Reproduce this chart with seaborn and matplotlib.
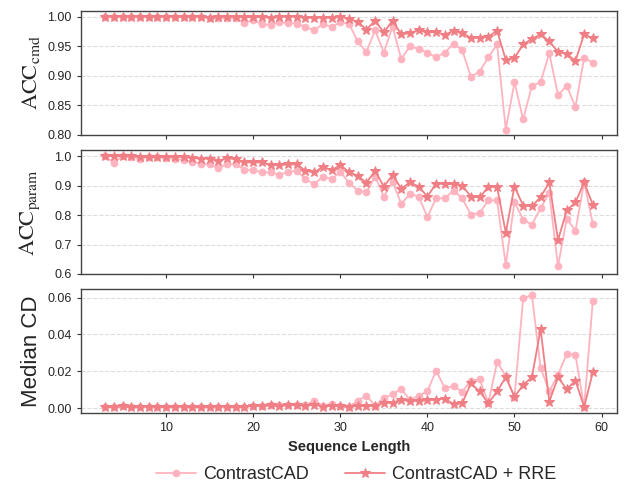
import numpy as np
import pandas as pd
import seaborn as sns
import matplotlib.pyplot as plt

# sequence lengths 3..59
seq_len = list(range(3, 60))

# ACC_cmd
cmd_base = [1.0, 1.0, 1.0, 1.0, 0.999, 0.999, 0.999, 0.999, 0.999, 0.999,
            0.999, 0.999, 0.997, 0.997, 0.997, 0.997, 0.989, 0.994, 0.987, 0.986,
            0.990, 0.989, 0.988, 0.982, 0.977, 0.987, 0.983, 0.990, 0.988, 0.958,
            0.940, 0.977, 0.939, 0.983, 0.928, 0.950, 0.945, 0.939, 0.931, 0.939,
            0.954, 0.943, 0.898, 0.907, 0.931, 0.953, 0.809, 0.889, 0.826, 0.883,
            0.889, 0.938, 0.867, 0.883, 0.847, 0.930, 0.922]
cmd_rre = [1.0, 1.0, 1.0, 1.0, 1.0, 1.0, 1.0, 1.0, 1.0, 1.0,
           1.0, 1.0, 0.998, 1.0, 1.0, 1.0, 0.999, 0.999, 0.999, 0.998,
           1.0, 1.0, 1.0, 0.998, 0.998, 0.998, 0.998, 1.0, 0.996, 0.991,
           0.978, 0.993, 0.973, 0.993, 0.970, 0.972, 0.977, 0.973, 0.974, 0.969,
           0.976, 0.972, 0.964, 0.964, 0.966, 0.976, 0.927, 0.930, 0.953, 0.962,
           0.970, 0.958, 0.940, 0.937, 0.925, 0.970, 0.963]

# ACC_param
param_base = [1.0, 0.978, 1.0, 0.998, 0.992, 0.996, 0.996, 0.994, 0.992, 0.987,
              0.981, 0.975, 0.972, 0.959, 0.973, 0.973, 0.953, 0.953, 0.945, 0.945,
              0.937, 0.947, 0.950, 0.922, 0.905, 0.931, 0.922, 0.947, 0.910, 0.883,
              0.877, 0.931, 0.863, 0.914, 0.838, 0.872, 0.863, 0.793, 0.857, 0.857,
              0.883, 0.857, 0.801, 0.807, 0.850, 0.850, 0.631, 0.844, 0.785, 0.767,
              0.824, 0.875, 0.626, 0.788, 0.747, 0.911, 0.770]
param_rre = [1.0, 1.0, 1.0, 1.0, 0.998, 0.998, 0.998, 0.998, 0.998, 0.998,
             0.994, 0.992, 0.992, 0.984, 0.994, 0.989, 0.979, 0.979, 0.979, 0.970,
             0.970, 0.972, 0.972, 0.951, 0.945, 0.964, 0.952, 0.970, 0.946, 0.933,
             0.910, 0.950, 0.897, 0.936, 0.890, 0.911, 0.897, 0.863, 0.907, 0.906,
             0.905, 0.900, 0.863, 0.860, 0.896, 0.896, 0.740, 0.897, 0.832, 0.830,
             0.861, 0.911, 0.715, 0.816, 0.843, 0.911, 0.835]

# Median CD
cd_base = [0.0007, 0.0004, 0.0011, 0.0004, 0.0007, 0.0009, 0.0009, 0.0005, 0.0009, 0.0009,
           0.0007, 0.0005, 0.0009, 0.0009, 0.0009, 0.0005, 0.0009, 0.0013, 0.0013, 0.0016,
           0.0015, 0.0016, 0.0020, 0.0016, 0.0041, 0.0014, 0.0023, 0.0010, 0.0008, 0.0041,
           0.0068, 0.0014, 0.0056, 0.0076, 0.0105, 0.0045, 0.0068, 0.0092, 0.0204, 0.0110,
           0.0119, 0.0089, 0.0150, 0.0157, 0.0027, 0.0250, 0.0177, 0.0062, 0.0596, 0.0614,
           0.0219, 0.0091, 0.0182, 0.0295, 0.0290, 0.0007, 0.0583]
cd_rre = [0.0007, 0.0004, 0.0011, 0.0004, 0.0007, 0.0009, 0.0009, 0.0005, 0.0009, 0.0009,
          0.0007, 0.0005, 0.0009, 0.0009, 0.0009, 0.0005, 0.0009, 0.0013, 0.0013, 0.0015,
          0.0013, 0.0016, 0.0020, 0.0014, 0.0020, 0.0009, 0.0014, 0.0011, 0.0007, 0.0014,
          0.0011, 0.0014, 0.0029, 0.0029, 0.0047, 0.0038, 0.0041, 0.0043, 0.0047, 0.0052,
          0.0022, 0.0027, 0.0135, 0.0091, 0.0027, 0.0091, 0.0168, 0.0062, 0.0126, 0.0168,
          0.0429, 0.0036, 0.0168, 0.0102, 0.0150, 0.0007, 0.0195]

labels = ['ContrastCAD', 'ContrastCAD + RRE']
colors = ['#ffb3bf', '#ef7f84']

sns.set_style('ticks')
plt.rcParams['font.family'] = ['Liberation Sans', 'DejaVu Sans']
plt.rcParams['mathtext.fontset'] = 'stix'

fig, axes = plt.subplots(3, 1, figsize=(6.26, 4.86), dpi=100, sharex=True)
fig.subplots_adjust(left=0.129, right=0.986, top=0.977, bottom=0.150, hspace=0.125)

panels = [
    (cmd_base, cmd_rre, r'$\mathrm{ACC}_{\mathrm{cmd}}$', (0.8, 1.009), [0.80, 0.85, 0.90, 0.95, 1.00], '{:.2f}'),
    (param_base, param_rre, r'$\mathrm{ACC}_{\mathrm{param}}$', (0.6, 1.02), [0.6, 0.7, 0.8, 0.9, 1.0], '{:.1f}'),
    (cd_base, cd_rre, 'Median CD', None, [0.00, 0.02, 0.04, 0.06], '{:.2f}'),
]

for ax, (base, rre, ylab, ylim, yticks, fmt) in zip(axes, panels):
    sns.lineplot(x=seq_len, y=base, ax=ax, color=colors[0], marker='o', markersize=4.8,
                 markeredgecolor=colors[0], linewidth=1.3, label=labels[0], legend=False)
    sns.lineplot(x=seq_len, y=rre, ax=ax, color=colors[1], marker='*', markersize=7,
                 markeredgecolor=colors[1], linewidth=1.3, label=labels[1], legend=False)
    if ylim is not None:
        ax.set_ylim(*ylim)
    ax.set_yticks(yticks)
    ax.set_yticklabels([fmt.format(t) for t in yticks])
    ax.grid(axis='y', linestyle='--', color='#dddddd', linewidth=0.8)
    ax.set_axisbelow(True)
    ax.set_ylabel(ylab, fontsize=16)
    ax.tick_params(labelsize=9, length=3, color='#333333')
    for s in ax.spines.values():
        s.set_color('#444444')
        s.set_linewidth(1.0)

axes[2].set_xticks([10, 20, 30, 40, 50, 60])
axes[2].set_xlabel('Sequence Length', fontsize=10.5, fontweight='bold')
fig.align_ylabels(axes)

handles, labs = axes[0].get_legend_handles_labels()
fig.legend(handles, labs, loc='center', bbox_to_anchor=(0.569, 0.024), ncol=2,
           frameon=False, fontsize=13, handlelength=2.2, handletextpad=0.4,
           columnspacing=2.0)

plt.savefig('out.png', dpi=100)
